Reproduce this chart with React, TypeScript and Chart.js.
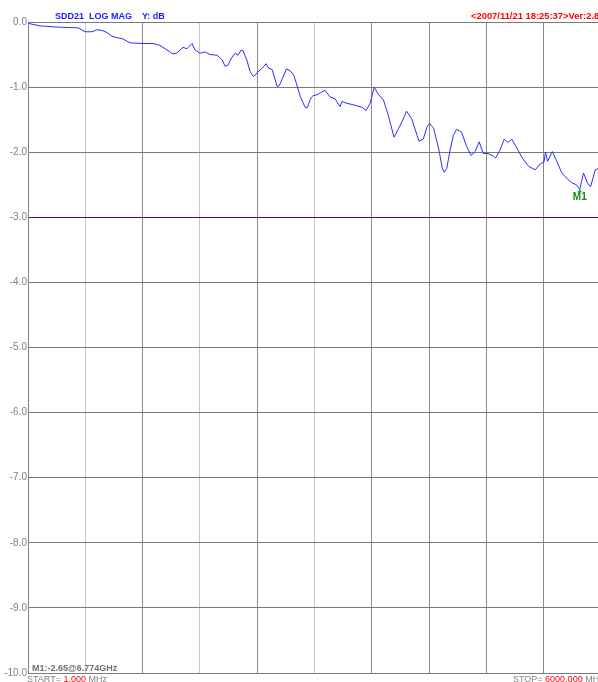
import React, { useEffect, useRef } from 'react';
import { Chart, registerables } from 'chart.js';

Chart.register(...registerables);

const freqMHz = [
  1, 127, 336, 524, 598, 671, 723, 776, 828, 880, 933, 995, 1069, 1205, 1310, 1383,
  1456, 1519, 1551, 1572, 1624, 1666, 1718, 1750, 1802, 1855, 1907, 1980, 2033, 2064,
  2095, 2137, 2169, 2200, 2232, 2253, 2295, 2326, 2363, 2400, 2452, 2494, 2520, 2557,
  2609, 2630, 2661, 2708, 2745, 2781, 2813, 2850, 2902, 2923, 2959, 2985, 3027, 3059,
  3111, 3163, 3216, 3268, 3289, 3341, 3404, 3498, 3540, 3582, 3626, 3668, 3723, 3772,
  3833, 3880, 3917, 3964, 4016, 4074, 4095, 4139, 4179, 4205, 4247, 4304, 4336, 4357,
  4385, 4420, 4454, 4488, 4540, 4593, 4640, 4682, 4725, 4767, 4817, 4873, 4896, 4942,
  4987, 5024, 5066, 5124, 5176, 5244, 5312, 5364, 5403, 5419, 5441, 5490, 5537, 5590,
  5647, 5694, 5742, 5778, 5817, 5860, 5891, 5940, 5972,
];

const sdd21dB = [
  -0.02, -0.06, -0.08, -0.09, -0.15, -0.15, -0.12, -0.13, -0.16, -0.22, -0.24, -0.26, -0.32, -0.33, -0.33, -0.36,
  -0.43, -0.49, -0.48, -0.46, -0.39, -0.41, -0.33, -0.43, -0.48, -0.46, -0.5, -0.51, -0.58, -0.68,
  -0.66, -0.54, -0.48, -0.51, -0.43, -0.44, -0.6, -0.76, -0.84, -0.78, -0.71, -0.64, -0.71, -0.73,
  -0.99, -0.98, -0.88, -0.72, -0.75, -0.81, -0.95, -1.14, -1.31, -1.32, -1.18, -1.13, -1.12, -1.09,
  -1.05, -1.15, -1.18, -1.3, -1.22, -1.25, -1.27, -1.31, -1.36, -1.25, -1.0, -1.11, -1.2, -1.43,
  -1.77, -1.64, -1.53, -1.37, -1.48, -1.74, -1.83, -1.8, -1.61, -1.56, -1.63, -1.97, -2.23, -2.31,
  -2.25, -1.97, -1.74, -1.65, -1.69, -1.91, -2.05, -1.99, -1.84, -2.02, -2.02, -2.06, -2.09, -1.97,
  -1.8, -1.85, -1.8, -1.95, -2.09, -2.22, -2.27, -2.18, -2.15, -2.0, -2.14, -1.99, -2.14, -2.32,
  -2.41, -2.47, -2.5, -2.57, -2.32, -2.48, -2.53, -2.27, -2.25,
];

const yTickValues = [0, -1, -2, -3, -4, -5, -6, -7, -8, -9, -10];
const xStartMHz = 1;
const xStopMHz = 6000;
const xDivisions = 10;

const markerFreqMHz = 5778;
const markerDb = -2.57;
const markerName = 'M1';
const markerReadout = 'M1:-2.65@6.774GHz';
const titleText = 'SDD21  LOG MAG    Y: dB';
const stampText = '<2007/11/21 18:25:37>Ver:2.87';

const FONT = '"Liberation Sans", Arial, sans-serif';

const overlayPlugin = {
  id: 'vnaOverlay',
  afterDraw(chart: any) {
    const ctx = chart.ctx as CanvasRenderingContext2D;
    const xs = chart.scales.x;
    const ys = chart.scales.y;
    ctx.save();
    ctx.textBaseline = 'alphabetic';
    ctx.textAlign = 'left';

    // title
    ctx.font = `bold 9px ${FONT}`;
    ctx.fillStyle = '#1a1aff';
    ctx.fillText(titleText, 55, 19);

    // stamp
    ctx.font = `bold 9.4px ${FONT}`;
    ctx.fillStyle = '#ff0000';
    ctx.fillText(stampText, 471, 18.5);

    // marker readout
    ctx.fillStyle = '#707070';
    ctx.font = `bold 9px ${FONT}`;
    ctx.fillText(markerReadout, 32, 671);

    // start / stop
    ctx.font = `9px ${FONT}`;
    let x = 27;
    const parts: [string, string][] = [['START= ', '#808080'], ['1.000', '#ff0000'], [' MHz', '#808080']];
    for (const [t, c] of parts) {
      ctx.fillStyle = c;
      ctx.fillText(t, x, 682);
      x += ctx.measureText(t).width;
    }
    x = 513;
    const parts2: [string, string][] = [['STOP= ', '#808080'], ['6000.000', '#ff0000'], [' MHz', '#808080']];
    for (const [t, c] of parts2) {
      ctx.fillStyle = c;
      ctx.fillText(t, x, 682);
      x += ctx.measureText(t).width;
    }

    // marker
    const mx = xs.getPixelForValue(markerFreqMHz);
    const my = ys.getPixelForValue(markerDb);
    ctx.fillStyle = '#22aa22';
    ctx.beginPath();
    ctx.moveTo(mx, my);
    ctx.lineTo(mx - 2.5, my + 3);
    ctx.lineTo(mx + 2.5, my + 3);
    ctx.closePath();
    ctx.fill();
    ctx.font = `bold 10px ${FONT}`;
    ctx.fillStyle = '#138a13';
    ctx.textAlign = 'center';
    ctx.fillText(markerName, mx, my + 11);
    ctx.restore();
  },
};

export default function App() {
  const ref = useRef<HTMLCanvasElement | null>(null);

  useEffect(() => {
    document.body.style.margin = '0';
    document.body.style.overflow = 'hidden';
    const canvas = ref.current;
    if (!canvas) return;
    const points = freqMHz.map((f, i) => ({ x: f, y: sdd21dB[i] }));
    const chart = new Chart(canvas, {
      type: 'line',
      data: {
        datasets: [
          {
            data: points,
            borderColor: 'rgb(45,45,255)',
            borderWidth: 1,
            pointRadius: 0,
            tension: 0,
            fill: false,
          },
        ],
      },
      options: {
        responsive: false,
        animation: false,
        devicePixelRatio: 1,
        layout: { padding: { left: 0, right: 3, top: 22, bottom: 9 } },
        plugins: { legend: { display: false }, tooltip: { enabled: false }, title: { display: false } },
        scales: {
          x: {
            type: 'linear',
            min: xStartMHz,
            max: xStopMHz,
            afterBuildTicks: (s: any) => {
              const step = (xStopMHz - xStartMHz) / xDivisions;
              s.ticks = Array.from({ length: xDivisions + 1 }, (_, i) => ({ value: xStartMHz + i * step }));
            },
            afterFit: (s: any) => {
              s.height = 0;
            },
            ticks: { display: false },
            border: { display: false },
            grid: {
              drawTicks: false,
              lineWidth: 1,
              color: (c: any) => (c.index === 1 || c.index === 3 || c.index === 5 ? '#c8c8c8' : '#8a8a8a'),
            },
          },
          y: {
            type: 'linear',
            min: -10,
            max: 0,
            afterBuildTicks: (s: any) => {
              s.ticks = yTickValues.map((v) => ({ value: v }));
            },
            afterFit: (s: any) => {
              s.width = 28;
            },
            border: { display: true, color: '#808080', width: 1 },
            grid: {
              drawTicks: false,
              lineWidth: 1,
              color: (c: any) => (c.tick && c.tick.value === -3 ? '#660066' : '#7a7a7a'),
            },
            ticks: {
              padding: 1,
              color: '#808080',
              font: { family: FONT, size: 10 },
              callback: (v: any) => Number(v).toFixed(1),
            },
          },
        },
      },
      plugins: [overlayPlugin],
    });
    return () => chart.destroy();
  }, []);

  return (
    <div style={{ position: 'absolute', left: 0, top: 0, width: 598, height: 682, overflow: 'hidden', background: '#fff' }}>
      <canvas ref={ref} width={604} height={682} style={{ display: 'block', width: 604, height: 682 }} />
    </div>
  );
}
